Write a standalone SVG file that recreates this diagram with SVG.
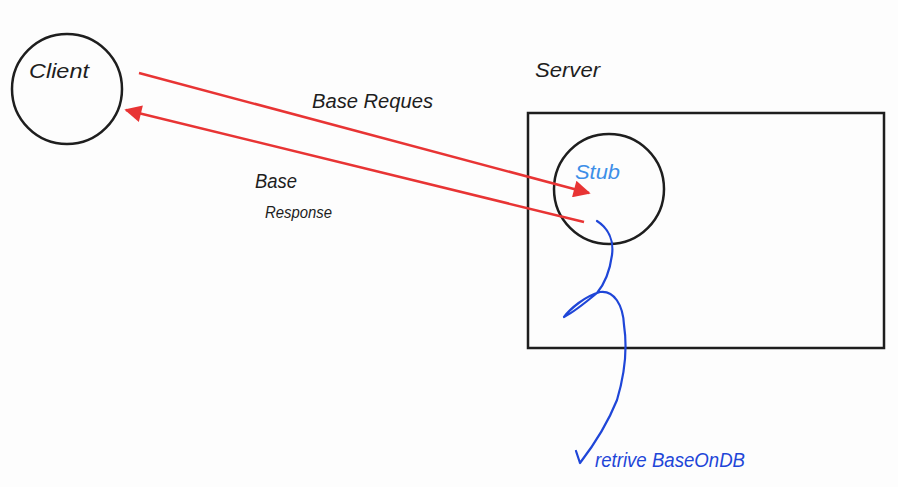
<svg xmlns="http://www.w3.org/2000/svg" width="898" height="487" viewBox="0 0 898 487">
<defs>
<style>
.blk{fill:none;stroke:#1e1e1e;stroke-width:2.5}
.red{fill:none;stroke:#e83434;stroke-width:2.5}
.blu{fill:none;stroke:#1f46d8;stroke-width:2.2;stroke-linecap:round;stroke-linejoin:round}
.t{font-family:"Liberation Sans",Arial,sans-serif;font-style:italic;fill:#1e1e1e}
</style>
<marker id="ah" viewBox="0 0 10 10" refX="9" refY="5" markerWidth="22" markerHeight="17" markerUnits="userSpaceOnUse" orient="auto">
<path d="M0,0 L10,5 L0,10 z" fill="#e83434"/>
</marker>
</defs>
<rect width="898" height="487" fill="#fdfdfd"/>
<g id="client">
<circle class="blk" cx="67" cy="89" r="55"/>
<text class="t" x="29" y="78" font-size="20" textLength="60" lengthAdjust="spacingAndGlyphs">Client</text>
</g>
<g id="server">
<rect class="blk" x="528" y="113" width="356" height="235"/>
<text class="t" x="535" y="77" font-size="20" textLength="65" lengthAdjust="spacingAndGlyphs">Server</text>
</g>
<g id="stub">
<circle class="blk" cx="609" cy="189" r="55"/>
<text class="t" x="575" y="179" font-size="20" style="fill:#3d8fe8" textLength="45" lengthAdjust="spacingAndGlyphs">Stub</text>
</g>
<g id="connectors">
<line class="red" x1="139" y1="73" x2="589" y2="193" marker-end="url(#ah)"/>
<line class="red" x1="584" y1="222" x2="126" y2="110" marker-end="url(#ah)"/>
<path class="blu" d="M597,221 C608,228 614,240 612,255 C610,270 606,282 597,293 C585,303 570,314 564,317 C570,309 585,296 600,292 C614,290 623,305 624,325 C627,345 626,370 617,400 C605,430 590,450 580,463 M576,451 L580,463"/>
</g>
<g id="labels">
<text class="t" x="312" y="108" font-size="20" textLength="121" lengthAdjust="spacingAndGlyphs">Base Reques</text>
<text class="t" x="255" y="188" font-size="20" textLength="42" lengthAdjust="spacingAndGlyphs">Base</text>
<text class="t" x="265" y="218" font-size="16" textLength="67" lengthAdjust="spacingAndGlyphs">Response</text>
<text class="t" x="595" y="467" font-size="20" style="fill:#1f46d8" textLength="150" lengthAdjust="spacingAndGlyphs">retrive BaseOnDB</text>
</g>
</svg>
